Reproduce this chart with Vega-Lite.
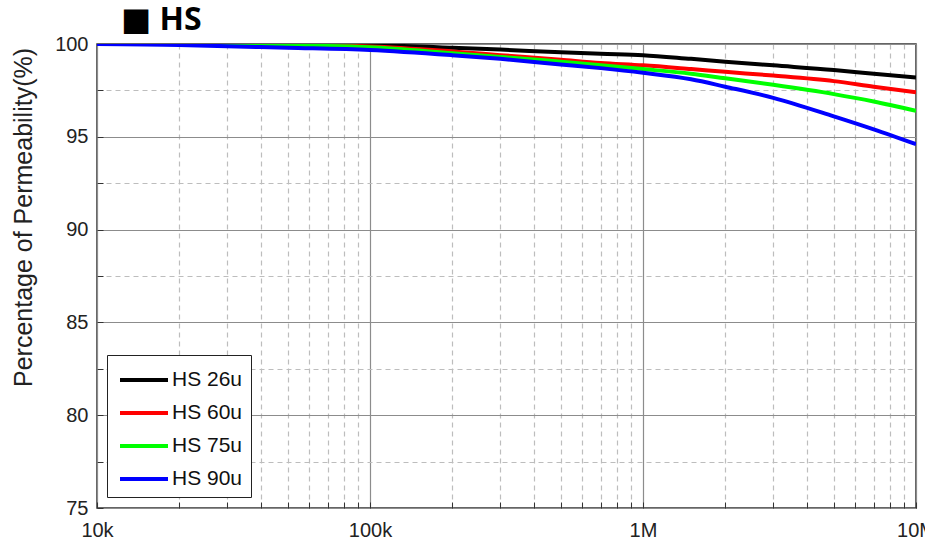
{
  "$schema": "https://vega.github.io/schema/vega-lite/v6.json",
  "autosize": {"type": "none"},
  "padding": {"left": 97, "top": 44, "right": 9, "bottom": 35},
  "width": 819,
  "height": 464,
  "background": "white",
  "title": {
    "text": "■ HS",
    "anchor": "start",
    "frame": "group",
    "dx": 24,
    "offset": -28,
    "baseline": "alphabetic",
    "font": "Open Sans, DejaVu Sans",
    "fontSize": 32,
    "fontWeight": "bold",
    "color": "#000000"
  },
  "config": {
    "view": {"stroke": "#333333", "strokeWidth": 1.5},
    "axis": {
      "labelFont": "Liberation Sans Narrow, Liberation Sans",
      "labelFontSize": 20,
      "labelColor": "#222222",
      "domain": false,
      "tickColor": "#333333",
      "tickSize": -6,
      "labelOverlap": false,
      "labelFlush": false,
      "labelBound": false
    }
  },
  "data": {
    "values": [
      {"f": 10000, "series": "HS 26u", "p": 100},
      {"f": 20000, "series": "HS 26u", "p": 100},
      {"f": 30000, "series": "HS 26u", "p": 100},
      {"f": 50000, "series": "HS 26u", "p": 99.98},
      {"f": 100000, "series": "HS 26u", "p": 99.94},
      {"f": 200000, "series": "HS 26u", "p": 99.8},
      {"f": 300000, "series": "HS 26u", "p": 99.7},
      {"f": 500000, "series": "HS 26u", "p": 99.55},
      {"f": 700000, "series": "HS 26u", "p": 99.47},
      {"f": 1000000, "series": "HS 26u", "p": 99.4},
      {"f": 1500000, "series": "HS 26u", "p": 99.2},
      {"f": 2000000, "series": "HS 26u", "p": 99.05},
      {"f": 3000000, "series": "HS 26u", "p": 98.85},
      {"f": 5000000, "series": "HS 26u", "p": 98.6},
      {"f": 7000000, "series": "HS 26u", "p": 98.4},
      {"f": 10000000, "series": "HS 26u", "p": 98.2},

      {"f": 10000, "series": "HS 60u", "p": 100},
      {"f": 20000, "series": "HS 60u", "p": 100},
      {"f": 30000, "series": "HS 60u", "p": 99.98},
      {"f": 50000, "series": "HS 60u", "p": 99.95},
      {"f": 100000, "series": "HS 60u", "p": 99.87},
      {"f": 200000, "series": "HS 60u", "p": 99.6},
      {"f": 300000, "series": "HS 60u", "p": 99.4},
      {"f": 500000, "series": "HS 60u", "p": 99.15},
      {"f": 700000, "series": "HS 60u", "p": 98.98},
      {"f": 1000000, "series": "HS 60u", "p": 98.85},
      {"f": 1500000, "series": "HS 60u", "p": 98.65},
      {"f": 2000000, "series": "HS 60u", "p": 98.5},
      {"f": 3000000, "series": "HS 60u", "p": 98.3},
      {"f": 5000000, "series": "HS 60u", "p": 98.0},
      {"f": 7000000, "series": "HS 60u", "p": 97.7},
      {"f": 10000000, "series": "HS 60u", "p": 97.4},

      {"f": 10000, "series": "HS 75u", "p": 100},
      {"f": 20000, "series": "HS 75u", "p": 100},
      {"f": 30000, "series": "HS 75u", "p": 99.97},
      {"f": 50000, "series": "HS 75u", "p": 99.93},
      {"f": 100000, "series": "HS 75u", "p": 99.82},
      {"f": 200000, "series": "HS 75u", "p": 99.5},
      {"f": 300000, "series": "HS 75u", "p": 99.3},
      {"f": 500000, "series": "HS 75u", "p": 99.05},
      {"f": 700000, "series": "HS 75u", "p": 98.85},
      {"f": 1000000, "series": "HS 75u", "p": 98.65},
      {"f": 1500000, "series": "HS 75u", "p": 98.4},
      {"f": 2000000, "series": "HS 75u", "p": 98.15},
      {"f": 3000000, "series": "HS 75u", "p": 97.8},
      {"f": 5000000, "series": "HS 75u", "p": 97.3},
      {"f": 7000000, "series": "HS 75u", "p": 96.9},
      {"f": 10000000, "series": "HS 75u", "p": 96.4},

      {"f": 10000, "series": "HS 90u", "p": 100},
      {"f": 20000, "series": "HS 90u", "p": 99.95},
      {"f": 30000, "series": "HS 90u", "p": 99.88},
      {"f": 50000, "series": "HS 90u", "p": 99.8},
      {"f": 100000, "series": "HS 90u", "p": 99.68},
      {"f": 200000, "series": "HS 90u", "p": 99.4},
      {"f": 300000, "series": "HS 90u", "p": 99.2},
      {"f": 500000, "series": "HS 90u", "p": 98.9},
      {"f": 700000, "series": "HS 90u", "p": 98.7},
      {"f": 1000000, "series": "HS 90u", "p": 98.45},
      {"f": 1500000, "series": "HS 90u", "p": 98.1},
      {"f": 2000000, "series": "HS 90u", "p": 97.7},
      {"f": 3000000, "series": "HS 90u", "p": 97.1},
      {"f": 5000000, "series": "HS 90u", "p": 96.1},
      {"f": 7000000, "series": "HS 90u", "p": 95.4},
      {"f": 10000000, "series": "HS 90u", "p": 94.6}
    ]
  },
  "mark": {"type": "line", "strokeWidth": 4, "interpolate": "monotone", "clip": true},
  "encoding": {
    "x": {
      "field": "f",
      "type": "quantitative",
      "scale": {"type": "log", "domain": [10000, 10000000], "nice": false},
      "axis": {
        "title": null,
        "values": [10000, 20000, 30000, 40000, 50000, 60000, 70000, 80000, 90000,
                   100000, 200000, 300000, 400000, 500000, 600000, 700000, 800000, 900000,
                   1000000, 2000000, 3000000, 4000000, 5000000, 6000000, 7000000, 8000000, 9000000,
                   10000000],
        "labelExpr": "datum.value == 10000 ? '10k' : datum.value == 100000 ? '100k' : datum.value == 1000000 ? '1M' : datum.value == 10000000 ? '10M' : ''",
        "labelPadding": 18,
        "gridColor": {"condition": {"test": "indexof([10000, 100000, 1000000, 10000000], datum.value) >= 0", "value": "#8c8c8c"}, "value": "#bdbdbd"},
        "gridDash": {"condition": {"test": "indexof([10000, 100000, 1000000, 10000000], datum.value) >= 0", "value": []}, "value": [5, 4]},
        "gridWidth": 1.2
      }
    },
    "y": {
      "field": "p",
      "type": "quantitative",
      "scale": {"domain": [75, 100], "nice": false, "zero": false},
      "axis": {
        "title": "Percentage of Permeability(%)",
        "titleFont": "Liberation Sans",
        "titleFontSize": 25,
        "titleFontWeight": "normal",
        "titleColor": "#222222",
        "titleAngle": -90,
        "titleAlign": "center",
        "titleBaseline": "middle",
        "titleX": -74,
        "titleY": 173,
        "values": [75, 77.5, 80, 82.5, 85, 87.5, 90, 92.5, 95, 97.5, 100],
        "labelExpr": "datum.value % 5 === 0 ? format(datum.value, 'd') : ''",
        "labelPadding": 15,
        "gridColor": {"condition": {"test": "datum.value % 5 === 0", "value": "#8c8c8c"}, "value": "#bdbdbd"},
        "gridDash": {"condition": {"test": "datum.value % 5 === 0", "value": []}, "value": [5, 4]},
        "gridWidth": 1.2
      }
    },
    "color": {
      "field": "series",
      "type": "nominal",
      "scale": {
        "domain": ["HS 26u", "HS 60u", "HS 75u", "HS 90u"],
        "range": ["#000000", "#ff0000", "#00ff00", "#0000ff"]
      },
      "legend": {
        "title": null,
        "orient": "none",
        "legendX": 10,
        "legendY": 311,
        "symbolType": "M-1.6,0H1.6",
        "symbolSize": 900,
        "symbolOffset": 12,
        "symbolStrokeWidth": 4,
        "labelFont": "Liberation Sans Narrow, Liberation Sans",
        "labelFontSize": 21,
        "labelColor": "#111111",
        "labelOffset": 11,
        "rowPadding": 6,
        "padding": 8,
        "strokeColor": "#222222",
        "fillColor": "#ffffff"
      }
    }
  }
}
